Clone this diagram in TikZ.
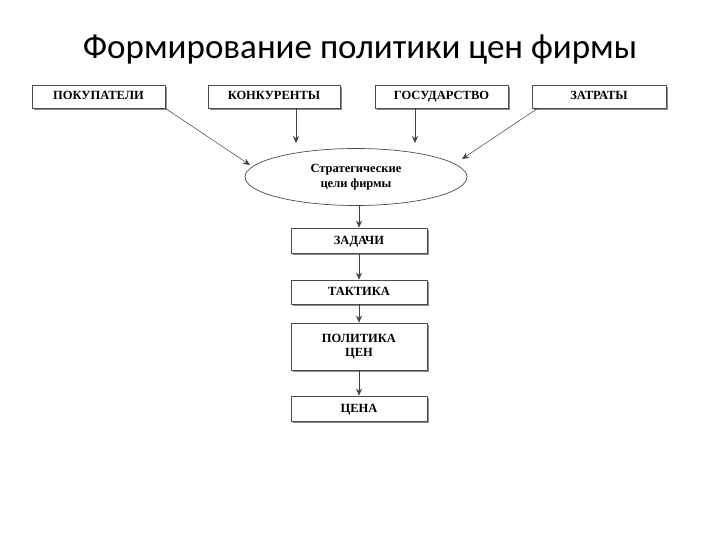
\documentclass[tikz,border=0pt]{standalone}
\usepackage{fontspec}
\setmainfont{Liberation Serif}
\newfontfamily\titlefont{Carlito}
\usetikzlibrary{shapes.geometric,arrows.meta}
\begin{document}
\begin{tikzpicture}[x=1pt,y=-1pt,
  box/.style={draw=black!70,line width=0.7pt,fill=white,inner sep=0pt,font=\bfseries\fontsize{12.5}{14}\selectfont},
  shadow/.style={fill=black!45},
  arr/.style={-{Stealth[length=7pt,width=6pt]},line width=0.5pt,draw=black!75}]
\useasboundingbox (0,0) rectangle (720,540);
\node[font=\titlefont\fontsize{35}{40}\selectfont] (title) at (360,50) {Формирование политики цен фирмы};
\newcommand{\mybox}[7]{%
  \fill[shadow] (#2+2,#3+2) rectangle (#4+2,#5+2);
  \node[box,minimum width=#4-#2,minimum height=#5-#3,#7] (#1) at ({(#2+#4)/2},{(#3+#5)/2}) {#6};}
\tikzset{one/.style={text height=9pt,text depth=2pt}}
\mybox{b1}{32}{85}{165}{108}{ПОКУПАТЕЛИ}{one}
\mybox{b2}{208}{85}{340}{108}{КОНКУРЕНТЫ}{one}
\mybox{b3}{375}{85}{508}{108}{ГОСУДАРСТВО}{one}
\mybox{b4}{532}{85}{666}{108}{ЗАТРАТЫ}{one}
\node[ellipse,draw=black!70,line width=0.7pt,minimum width=222,minimum height=57,inner sep=0pt,font=\bfseries\fontsize{12.5}{15}\selectfont,align=center] (e) at (356,177) {Стратегические\\цели фирмы};
\mybox{c1}{291}{228}{427}{253}{ЗАДАЧИ}{one}
\mybox{c2}{291}{280}{427}{304}{ТАКТИКА}{one}
\mybox{c3}{291}{323}{427}{370}{ПОЛИТИКА\\ЦЕН}{align=center}
\mybox{c4}{291}{396}{427}{421}{ЦЕНА}{one}
\coordinate (p1) at (250,165);
\coordinate (p2) at (296,143);
\coordinate (p3) at (415,143);
\coordinate (p4) at (462,159);
\draw[arr] (b1.south east) -- (p1);
\draw[arr] (b2.south -| p2) -- (p2);
\draw[arr] (b3.south -| p3) -- (p3);
\draw[arr] (b4.south west) ++(6,0) -- (p4);
\draw[arr] (e.south -| c1.north) -- (c1.north);
\draw[arr] (c1) -- (c2);
\draw[arr] (c2) -- (c3);
\draw[arr] (c3) -- (c4);
\end{tikzpicture}
\end{document}
